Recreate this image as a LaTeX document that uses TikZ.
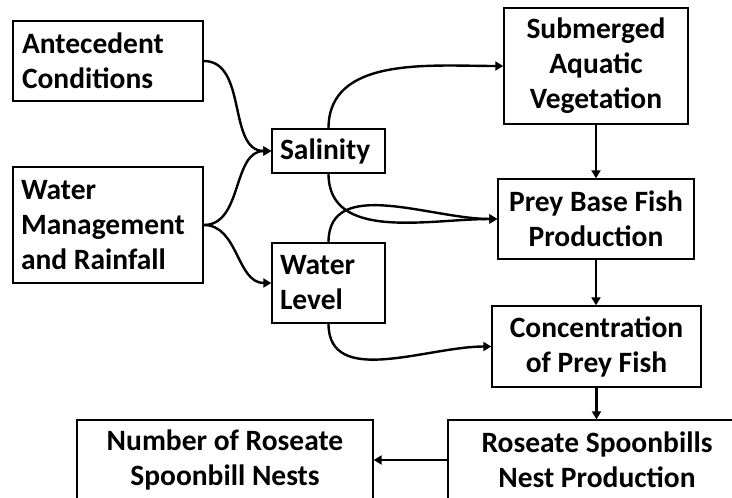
\documentclass[tikz,border=0pt]{standalone}
\usepackage{fontspec}
\setmainfont{Carlito}
\usetikzlibrary{arrows.meta}

\begin{document}
\begin{tikzpicture}[x=1pt,y=-1pt,
    box/.style={draw,line width=1.4pt,inner sep=0pt,font=\fontsize{29.5}{35}\selectfont\bfseries},
    lbox/.style={box,align=flush left},
    cbox/.style={box,align=center},
    link/.style={-{Triangle[length=8pt,width=9pt]},line width=2.4pt}]
  \useasboundingbox (0,0) rectangle (732,498);
  \clip (0,0) rectangle (732,498);

  % drivers on the left
  \node[lbox,minimum width=190pt,minimum height=80pt,text width=172pt] (ante) at (108,61) {Antecedent\\Conditions};
  \node[lbox,minimum width=190pt,minimum height=116pt,text width=174pt] (water) at (108,225) {Water\\Management\\and Rainfall};

  % physical conditions
  \node[lbox,minimum width=113pt,minimum height=44pt,text width=97pt] (salinity) at (328.5,151) {Salinity};
  \node[lbox,minimum width=113pt,minimum height=80pt,text width=97pt] (level) at (328.5,283) {Water\\Level};

  % food chain
  \node[cbox,minimum width=184pt,minimum height=116pt] (sav) at (596,66) {Submerged\\Aquatic\\Vegetation};
  \node[cbox,minimum width=196pt,minimum height=80pt] (prey) at (596,219) {Prey Base Fish\\Production};
  \node[cbox,minimum width=209pt,minimum height=81pt] (conc) at (596.5,346.5) {Concentration\\of Prey Fish};

  % nesting
  \node[cbox,minimum width=298pt,minimum height=80pt] (nestprod) at (597,460) {Roseate Spoonbills\\Nest Production};
  \node[cbox,minimum width=296pt,minimum height=80pt] (nests) at (225,460) {Number of Roseate\\Spoonbill Nests};

  \draw[link] (ante.east) to[out=0,in=180] (salinity.west);
  \draw[link] (water.east) to[out=0,in=180] (salinity.west);
  \draw[link] (water.east) to[out=0,in=180] (level.west);

  \draw[link] (salinity.north) to[out=90,in=180] (sav.west);
  \draw[link] (salinity.south) to[out=-90,in=180] (prey.west);
  \draw[link] (level.north) to[out=90,in=180] (prey.west);
  \draw[link] (level.south) to[out=-90,in=180] (conc.west);

  \draw[link] (sav) -- (prey);
  \draw[link] (prey) -- (prey |- conc.north);
  \draw[link] (conc) -- (conc |- nestprod.north);
  \draw[link] (nestprod) -- (nests);
\end{tikzpicture}
\end{document}
